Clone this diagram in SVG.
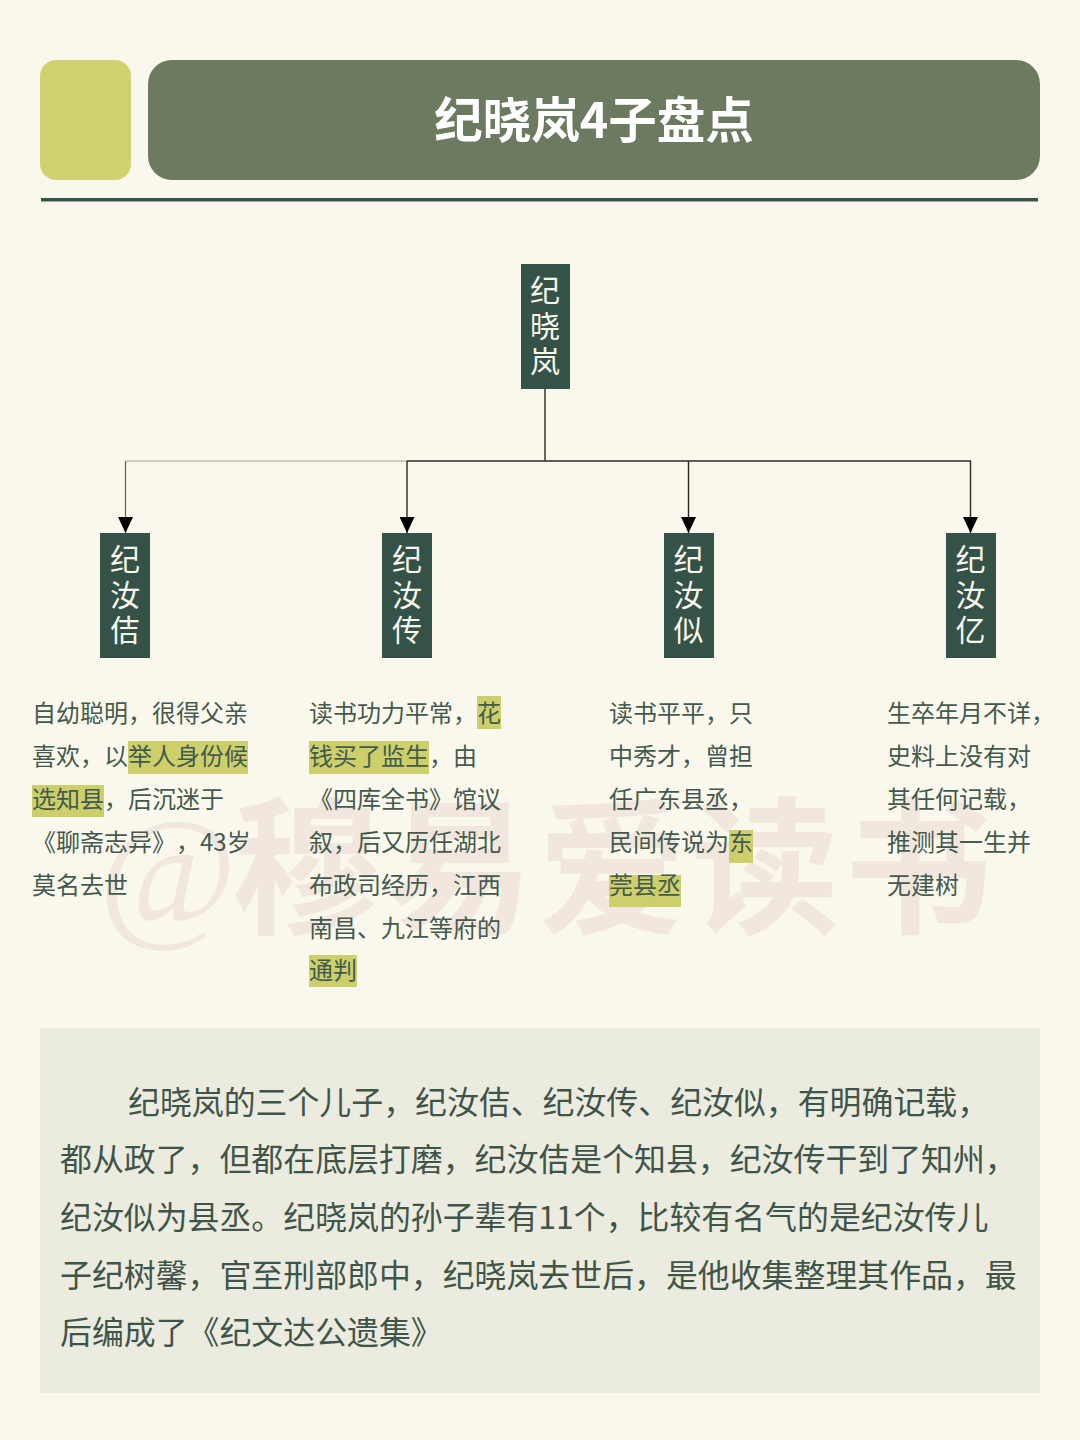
<svg xmlns="http://www.w3.org/2000/svg" width="1080" height="1440" viewBox="0 0 1080 1440">
<style>
text{font-family:"Noto Sans CJK SC","Noto Sans",sans-serif}
.n{fill:#345247}
.nt{fill:#f7f7ee;font-size:30px;text-anchor:middle}
.t{fill:#445a4e;font-size:24px}
.b{fill:#3f5549;font-size:31.9px}
.h{fill:#cdd06a}
.c{fill:none;stroke:#2b2b26;stroke-width:1.4}
</style>
<defs><marker id="a" markerUnits="userSpaceOnUse" markerWidth="16" markerHeight="15" refX="16" refY="7.5" orient="auto"><path d="M0 0L16 7.5L0 15Z" fill="#000"/></marker></defs>
<rect width="1080" height="1440" fill="#faf8ec"/>
<g id="watermark" fill="#f1e7df" font-size="148" font-weight="700"><text x="98" y="922" style="font-family:'Liberation Serif',serif" font-size="150" font-style="italic" font-weight="400">@</text><text x="232" y="922" style="font-family:'Noto Sans CJK SC',sans-serif" textLength="760">穆易爱读书</text></g>
<g id="header"><rect x="40" y="60" width="91" height="120" rx="16" fill="#d0d26f"/><rect x="148" y="60" width="892" height="120" rx="24" fill="#6c7a60"/><text x="594" y="138" fill="#fff" font-size="48.500" font-weight="700" text-anchor="middle">纪晓岚4子盘点</text><rect x="41" y="198" width="997" height="3.500" fill="#3a5548"/></g>
<g id="connectors">
<path class="c" style="stroke:#a3a294;stroke-width:1.2" d="M125.500 461H407"/>
<path class="c" d="M407 461H971M545 389V461"/>
<path class="c" style="stroke:#5f5f58;stroke-width:1.2" d="M125.500 461V533" marker-end="url(#a)"/>
<path class="c" d="M407 461V533" marker-end="url(#a)"/>
<path class="c" d="M688.500 461V533" marker-end="url(#a)"/>
<path class="c" d="M970.500 461V533" marker-end="url(#a)"/>
</g>
<g id="root"><rect class="n" x="521" y="264" width="49" height="125"/><text class="nt" x="545" y="301">纪</text><text class="nt" x="545" y="337">晓</text><text class="nt" x="545" y="372">岚</text></g>
<g id="child1"><rect class="n" x="100" y="533" width="50" height="125"/><text class="nt" x="125" y="570">纪</text><text class="nt" x="125" y="606">汝</text><text class="nt" x="125" y="641">佶</text></g>
<g id="child2"><rect class="n" x="382" y="533" width="50" height="125"/><text class="nt" x="407" y="570">纪</text><text class="nt" x="407" y="606">汝</text><text class="nt" x="407" y="641">传</text></g>
<g id="child3"><rect class="n" x="664" y="533" width="50" height="125"/><text class="nt" x="688.500" y="570">纪</text><text class="nt" x="688.500" y="606">汝</text><text class="nt" x="688.500" y="641">似</text></g>
<g id="child4"><rect class="n" x="946" y="533" width="50" height="125"/><text class="nt" x="970.500" y="570">纪</text><text class="nt" x="970.500" y="606">汝</text><text class="nt" x="970.500" y="641">亿</text></g>
<g id="desc1"><rect class="h" x="128" y="741" width="120" height="33"/><rect class="h" x="32" y="785" width="72" height="32"/>
<text class="t" x="32" y="722">自幼聪明，很得父亲</text><text class="t" x="32" y="765">喜欢，以举人身份候</text><text class="t" x="32" y="808">选知县，后沉迷于</text><text class="t" x="32" y="851">《聊斋志异》<tspan x="176">，</tspan><tspan x="200">43岁</tspan></text><text class="t" x="32" y="894">莫名去世</text></g>
<g id="desc2"><rect class="h" x="477" y="696" width="24" height="33"/><rect class="h" x="309" y="741" width="120" height="33"/><rect class="h" x="309" y="955" width="48" height="32"/>
<text class="t" x="309" y="722">读书功力平常，花</text><text class="t" x="309" y="765">钱买了监生，由</text><text class="t" x="309" y="808">《四库全书》馆议</text><text class="t" x="309" y="851">叙，后又历任湖北</text><text class="t" x="309" y="894">布政司经历，江西</text><text class="t" x="309" y="937">南昌、九江等府的</text><text class="t" x="309" y="979">通判</text></g>
<g id="desc3"><rect class="h" x="729" y="830" width="24" height="33"/><rect class="h" x="609" y="875" width="72" height="32"/>
<text class="t" x="609" y="722">读书平平，只</text><text class="t" x="609" y="765">中秀才，曾担</text><text class="t" x="609" y="808">任广东县丞，</text><text class="t" x="609" y="851">民间传说为东</text><text class="t" x="609" y="894">莞县丞</text></g>
<g id="desc4"><text class="t" x="887" y="722">生卒年月不详，</text><text class="t" x="887" y="765">史料上没有对</text><text class="t" x="887" y="808">其任何记载，</text><text class="t" x="887" y="851">推测其一生并</text><text class="t" x="887" y="894">无建树</text></g>
<g id="summary"><rect x="40" y="1028" width="1000" height="365" fill="#ecebdf"/>
<text class="b" x="128" y="1114">纪晓岚的三个儿子，纪汝佶、纪汝传、纪汝似，有明确记载，</text><text class="b" x="60" y="1171">都从政了，但都在底层打磨，纪汝佶是个知县，纪汝传干到了知州，</text><text class="b" x="60" y="1229">纪汝似为县丞。纪晓岚的孙子辈有11个，比较有名气的是纪汝传儿</text><text class="b" x="60" y="1287">子纪树馨，官至刑部郎中，纪晓岚去世后，是他收集整理其作品，最</text><text class="b" x="60" y="1344">后编成了《纪文达公遗集》</text></g>
</svg>
